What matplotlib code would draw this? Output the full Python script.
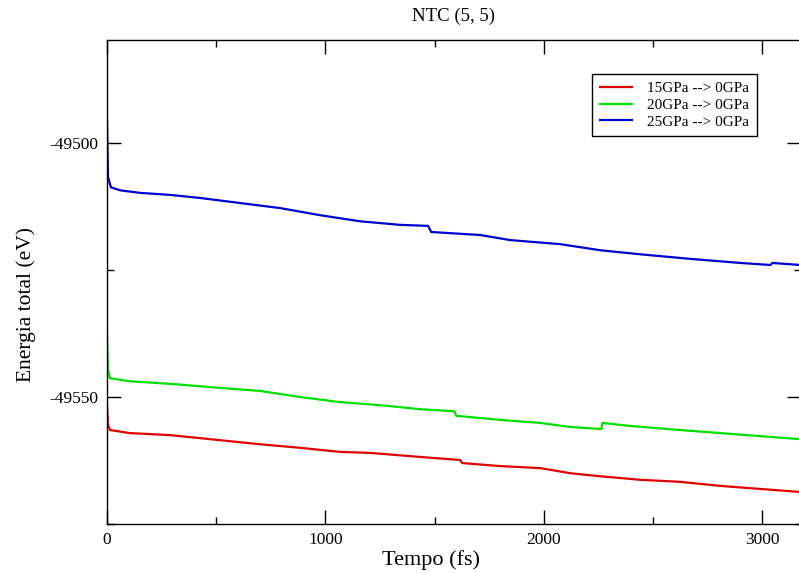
import matplotlib
matplotlib.use("Agg")
import matplotlib.pyplot as plt
from matplotlib.ticker import MultipleLocator

# values
t_15 = [0, 4.6, 14, 105, 289, 518, 701, 884, 1067, 1205, 1434, 1617, 1626,
        1800, 1984, 2121, 2258, 2442, 2625, 2808, 2991, 3175]
e_15 = [-49551.4, -49555.5, -49556.5, -49557.1, -49557.5, -49558.5, -49559.3,
        -49560.0, -49560.8, -49561.0, -49561.8, -49562.4, -49563.0, -49563.6,
        -49564.0, -49565.0, -49565.6, -49566.3, -49566.7, -49567.5, -49568.1,
        -49568.7]

t_20 = [0, 4.6, 14, 105, 289, 518, 701, 884, 1067, 1251, 1434, 1590, 1599,
        1800, 1984, 2121, 2263, 2268, 2396, 2625, 2808, 2991, 3175]
e_20 = [-49537.2, -49544.7, -49546.3, -49546.9, -49547.4, -49548.2, -49548.8,
        -49550.0, -49551.0, -49551.6, -49552.4, -49552.8, -49553.7, -49554.5,
        -49555.1, -49555.9, -49556.3, -49555.1, -49555.7, -49556.5, -49557.1,
        -49557.7, -49558.3]

t_25 = [0, 4.6, 18, 60, 151, 289, 426, 609, 793, 976, 1159, 1342, 1470, 1484,
        1709, 1846, 2075, 2258, 2442, 2671, 2900, 3037, 3046, 3175]
e_25 = [-49495.5, -49506.7, -49508.7, -49509.3, -49509.8, -49510.2, -49510.8,
        -49511.8, -49512.8, -49514.2, -49515.4, -49516.1, -49516.3, -49517.5,
        -49518.1, -49519.1, -49519.9, -49521.1, -49521.9, -49522.8, -49523.6,
        -49524.0, -49523.6, -49524.0]

labels = ["15GPa --> 0GPa", "20GPa --> 0GPa", "25GPa --> 0GPa"]
colors = ["#e00000", "#00e000", "#0000d0"]

plt.rcParams['font.family'] = ['Liberation Serif', 'DejaVu Serif']
plt.rcParams['axes.unicode_minus'] = False

fig = plt.figure(figsize=(7.99, 5.73), dpi=100)
ax = fig.add_axes([107 / 799, 1 - 524 / 573, 1.002 - 107 / 799, (524 - 40) / 573])

for t, e, lab, c in zip([t_15, t_20, t_25], [e_15, e_20, e_25], labels, colors):
    ax.plot(t, e, color=c, lw=1.6, label=lab)

ax.set_xlim(0, 3175)
ax.set_ylim(-49575, -49479.7)

ax.xaxis.set_major_locator(MultipleLocator(1000))
ax.xaxis.set_minor_locator(MultipleLocator(500))
ax.yaxis.set_major_locator(MultipleLocator(50))
ax.yaxis.set_minor_locator(MultipleLocator(25))
ax.tick_params(which='both', direction='in', top=True, right=True, width=1.0,
               labelsize=12.5, pad=6)
ax.tick_params(which='major', length=10)
ax.tick_params(which='minor', length=5)
for s in ax.spines.values():
    s.set_linewidth(1.0)

ax.set_xlabel("Tempo (fs)", fontsize=16)
ax.set_ylabel("Energia total (eV)", fontsize=15.5)
# label positions as in the reference (not centred on the cropped axes)
ax.xaxis.set_label_coords((430 - 107) / 692, -(550 - 524) / 484)
ax.yaxis.set_label_coords(-(107 - 36) / 692, (524 - 305) / 484)
ax.set_title("NTC (5, 5)", fontsize=13.5, pad=14)

leg = ax.legend(loc='upper right', bbox_to_anchor=(757 / 799, 1 - 74 / 573),
                bbox_transform=fig.transFigure, fontsize=11, fancybox=False,
                edgecolor='black', framealpha=1, handlelength=2.1,
                labelspacing=0.2, borderpad=0.5, handletextpad=1.0,
                borderaxespad=0)
leg.get_frame().set_linewidth(1.0)

fig.savefig("out.png", dpi=100)
